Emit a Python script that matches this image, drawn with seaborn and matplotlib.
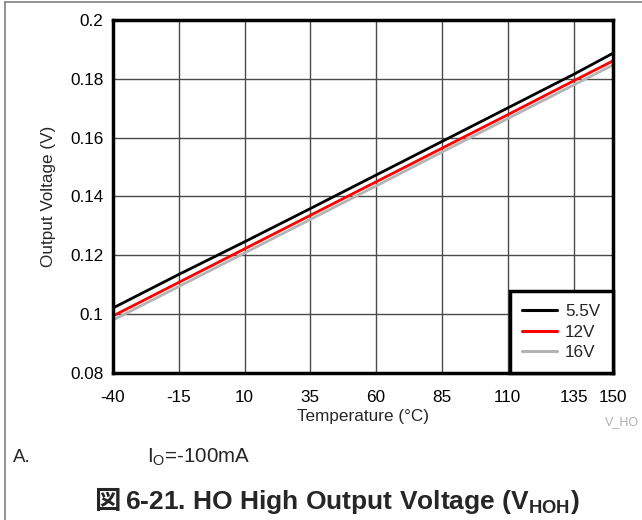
import numpy as np
import pandas as pd
import matplotlib
matplotlib.use('Agg')
import matplotlib.pyplot as plt
import seaborn as sns

# data
temps = [-40, -15, 10, 35, 60, 85, 110, 135, 150]
v_5v5 = [0.1021, 0.1135, 0.1246, 0.1359, 0.1473, 0.1587, 0.1701, 0.1815, 0.1887]
v_12v = [0.0994, 0.1108, 0.1222, 0.1336, 0.1450, 0.1564, 0.1678, 0.1793, 0.1861]
v_16v = [0.0980, 0.1094, 0.1208, 0.1322, 0.1436, 0.1551, 0.1665, 0.1779, 0.1847]
series_names = ['5.5V', '12V', '16V']
series_colors = ['#000000', '#ff0000', '#b4b4b4']
x_ticks = [-40, -15, 10, 35, 60, 85, 110, 135, 150]
y_ticks = [0.08, 0.1, 0.12, 0.14, 0.16, 0.18, 0.2]
y_tick_labels = ['0.08', '0.1', '0.12', '0.14', '0.16', '0.18', '0.2']

df = pd.concat([
    pd.DataFrame({'Temperature': temps, 'Voltage': v, 'Supply': name})
    for name, v in zip(series_names, [v_5v5, v_12v, v_16v])
])

sns.set_style('white')
plt.rcParams['font.family'] = ['Liberation Sans', 'Noto Sans CJK JP', 'DejaVu Sans']
plt.rcParams['axes.unicode_minus'] = False
plt.rcParams['mathtext.fontset'] = 'custom'
plt.rcParams['mathtext.rm'] = 'Liberation Sans'
plt.rcParams['mathtext.bf'] = 'Liberation Sans:bold'

W, H = 642, 520
fig = plt.figure(figsize=(W / 100, H / 100), dpi=100)
ax = fig.add_axes([113 / W, 1 - 373 / H, 500 / W, 353 / H])

sns.lineplot(data=df, x='Temperature', y='Voltage', hue='Supply',
             palette=dict(zip(series_names, series_colors)), linewidth=2.0, ax=ax)

ax.set_xlim(-40, 150)
ax.set_ylim(0.08, 0.2)
ax.set_xticks(x_ticks)
ax.set_xticklabels([str(t) for t in x_ticks])
ax.set_yticks(y_ticks)
ax.set_yticklabels(y_tick_labels)
ax.tick_params(axis='both', length=0, labelsize=12.3, colors='black')
ax.tick_params(axis='x', pad=12)
ax.tick_params(axis='y', pad=7)
ax.grid(True, color='#4a4a4a', linewidth=1)
ax.set_axisbelow(True)
for sp in ax.spines.values():
    sp.set_linewidth(2.5)
    sp.set_color('black')

ax.set_xlabel('Temperature (°C)', fontsize=12.3, labelpad=3)
ax.set_ylabel('Output Voltage (V)', fontsize=12.3, labelpad=10)

leg = ax.legend(loc='lower right', borderaxespad=0, fontsize=12.3, frameon=True,
                fancybox=False, handlelength=2.0, handletextpad=0.5,
                borderpad=0.75, labelspacing=0.32)
leg.get_frame().set_edgecolor('black')
leg.get_frame().set_linewidth(2.5)
leg.get_frame().set_alpha(1)
for line in leg.get_lines():
    line.set_linewidth(2.2)

# annotations below the plot
fig.text(605 / W, 1 - 422 / H, 'V_HO', fontsize=9, color='#b0b0b0', va='center', ha='left')
fig.text(13 / W, 1 - 462 / H, 'A.', fontsize=13.5, va='baseline', ha='left')
fig.text(147 / W, 1 - 462 / H, r'I$_\mathrm{O}$=-100mA', fontsize=14.8, va='baseline', ha='left')
fig.text(94 / W, 1 - 509 / H, '図', fontsize=19, fontweight='bold',
         family=['Noto Sans CJK JP'], va='baseline', ha='left')
fig.text(125 / W, 1 - 509 / H, r'6-21. HO High Output Voltage (V$_\mathbf{HOH}$)',
         fontsize=19, fontweight='bold', va='baseline', ha='left')

# outer frame of the figure panel
fig.add_artist(plt.Line2D([5 / W, 5 / W], [0, 1 - 2 / H], transform=fig.transFigure,
                          color='#808080', linewidth=1.2))
fig.add_artist(plt.Line2D([5 / W, 1], [1 - 2 / H, 1 - 2 / H], transform=fig.transFigure,
                          color='#808080', linewidth=1.2))

fig.savefig('out.png', dpi=100)
